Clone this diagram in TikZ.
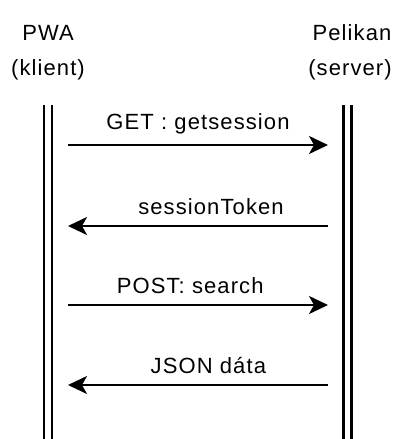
\documentclass[tikz,border=0pt]{standalone}
\usepackage{fontspec}
\setmainfont{Liberation Sans}[LetterSpace=5]
\usetikzlibrary{arrows.meta}

\tikzset{
	lbl/.style={inner sep=0pt, font=\fontsize{22}{25}\selectfont},
	msg/.style={line width=2pt, -{Stealth[length=19pt, width=18pt, inset=5pt]}},
	life/.style={line width=2.5pt, double, double distance=5.5pt}
}

\begin{document}
\begin{tikzpicture}[x=1pt, y=-1pt]
	\useasboundingbox (0,0) rectangle (392,439);

	\node[lbl](pwaName) at (48,33){PWA};
	\node[lbl](pwaRole) at (48,70){(klient)};
	\node[lbl](srvName) at (352,33){Pelikan};
	\node[lbl](srvRole) at (350,70){(server)};

	\coordinate(pwaTop) at (48,105);
	\coordinate(pwaBtm) at (48,439);
	\draw[life](pwaTop) -- (pwaBtm);
	\coordinate(srvTop) at (347.5,105);
	\coordinate(srvBtm) at (347.5,439);
	\draw[life](srvTop) -- (srvBtm);

	\coordinate(getL) at (68,145);
	\coordinate(getR) at (328,145);
	\draw[msg](getL) -- (getR) node[lbl, midway, above=10pt](getLbl){GET : getsession};

	\coordinate(tokL) at (68,226);
	\coordinate(tokR) at (328,226);
	\draw[msg](tokR) -- (tokL) node[lbl, pos=0.45, above=10pt](tokLbl){sessionToken};

	\coordinate(postL) at (68,305);
	\coordinate(postR) at (328,305);
	\draw[msg](postL) -- (postR) node[lbl, pos=0.47, above=10pt](postLbl){POST: search};

	\coordinate(jsonL) at (68,385);
	\coordinate(jsonR) at (328,385);
	\draw[msg](jsonR) -- (jsonL) node[lbl, pos=0.46, above=10pt](jsonLbl){JSON dáta};

\end{tikzpicture}
\end{document}
